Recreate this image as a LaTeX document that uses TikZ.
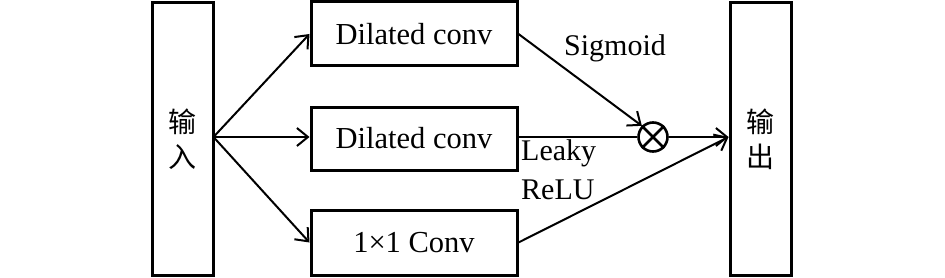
\documentclass[tikz,border=0pt]{standalone}
\usepackage{fontspec}
\setmainfont{Liberation Serif}
\newfontfamily\cjk{Noto Sans CJK SC}
\usetikzlibrary{arrows.meta}
\begin{document}
\begin{tikzpicture}[x=1pt,y=-1pt,
  blk/.style={draw,line width=3pt,inner sep=0pt},
  conn/.style={line width=2pt,-{Straight Barb[length=11pt,width=18pt,line width=2pt]}},
  plain/.style={line width=2pt},
  lbl/.style={font=\fontsize{30}{32}\selectfont,inner sep=0pt}]
\useasboundingbox (0,0) rectangle (945,278);
\node[blk,minimum width=61pt,minimum height=272pt] (in) at (182.5,139) {};
\node[font=\cjk\fontsize{28}{35}\selectfont,align=center] at (in.center) {输\\入};
\node[blk,minimum width=61pt,minimum height=272pt] (out) at (760.5,139) {};
\node[font=\cjk\fontsize{28}{35}\selectfont,align=center] at (out.center) {输\\出};
\node[blk,minimum width=206pt,minimum height=64pt,font=\fontsize{30.5}{32}\selectfont] (b1) at (414,34) {Dilated conv};
\node[blk,minimum width=206pt,minimum height=63pt,font=\fontsize{30.5}{32}\selectfont] (b2) at (414,138.5) {Dilated conv};
\node[blk,minimum width=206pt,minimum height=65pt,font=\fontsize{30.5}{32}\selectfont] (b3) at (414,242.5) {1×1 Conv};
\node[draw,circle,line width=2.6pt,minimum size=29pt,inner sep=0pt] (m) at (653,137) {};
\draw[line width=2.6pt] (m.45) -- (m.225) (m.135) -- (m.315);
\coordinate (f) at (213.5,137);
\draw[conn] (f) -- (b1.west);
\draw[conn] (f) -- (b2.west |- f);
\draw[conn] (f) -- (b3.west);
\draw[conn] (b1.east) -- (m.north west);
\draw[plain] (b2.east |- m) -- (m.west);
\draw[conn] (m.east) -- (out.west |- m);
\draw[conn] (b3.east) -- (out.west |- m);
\node[lbl] at (615,48) {Sigmoid};
\node[lbl,anchor=west] at (521,153) {Leaky};
\node[lbl,anchor=west] at (521,190) {ReLU};
\end{tikzpicture}
\end{document}
